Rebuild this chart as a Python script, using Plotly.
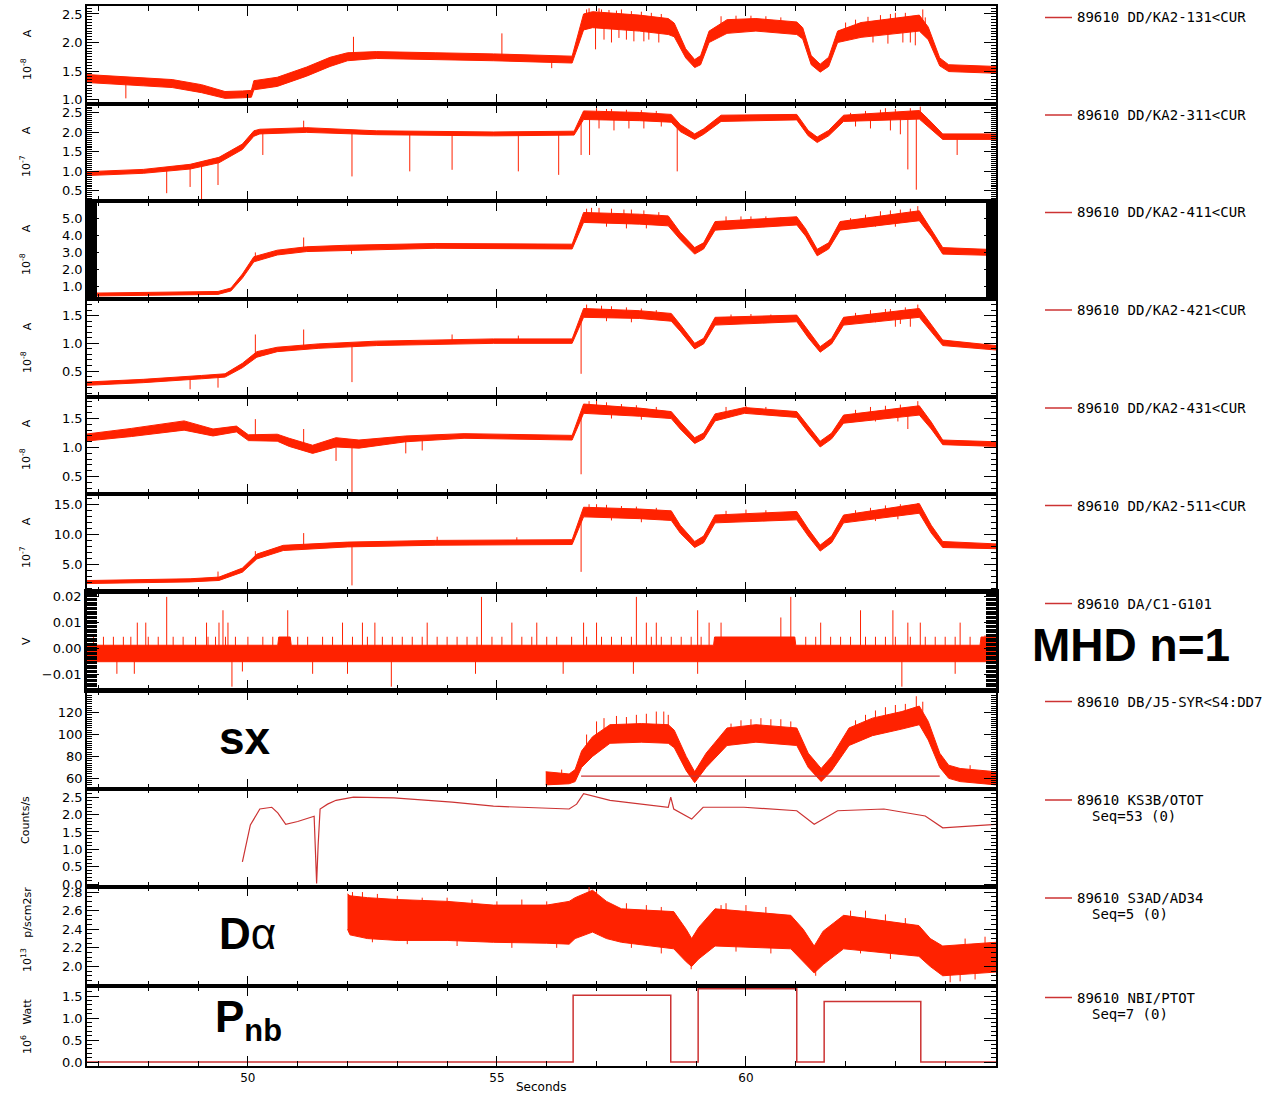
import numpy as np
import plotly.graph_objects as go

RED = "#ff2200"
DARK = "#cc3333"

# ---------------- data ----------------
X_RANGE = [46.77, 65.02]

# (time, lower envelope, upper envelope)
P1_BAND = [(46.73, 1.30, 1.44), (47.90, 1.24, 1.38), (48.48, 1.21, 1.35), (49.07, 1.12, 1.26),
           (49.54, 1.02, 1.14), (49.89, 1.03, 1.15), (50.07, 1.04, 1.16), (50.12, 1.17, 1.33),
           (50.59, 1.23, 1.39), (51.18, 1.41, 1.57), (51.65, 1.58, 1.74), (52.00, 1.68, 1.82),
           (52.58, 1.72, 1.84), (53.76, 1.70, 1.82), (54.93, 1.68, 1.80), (56.51, 1.64, 1.76),
           (56.74, 2.22, 2.50), (56.92, 2.26, 2.54), (57.86, 2.20, 2.48), (58.44, 2.14, 2.42),
           (58.56, 2.10, 2.34), (58.79, 1.73, 1.89), (58.97, 1.56, 1.70), (59.09, 1.61, 1.77),
           (59.26, 2.00, 2.20), (59.62, 2.16, 2.40), (60.20, 2.20, 2.42), (61.02, 2.14, 2.36),
           (61.14, 2.06, 2.26), (61.31, 1.61, 1.77), (61.49, 1.48, 1.62), (61.66, 1.58, 1.74),
           (61.84, 2.00, 2.20), (62.31, 2.09, 2.35), (63.13, 2.17, 2.45), (63.48, 2.20, 2.48),
           (63.66, 2.05, 2.27), (63.89, 1.59, 1.73), (64.07, 1.49, 1.61), (65.02, 1.46, 1.58)]
P1_SPIKES = [(47.55, 1.02), (52.12, 2.10), (55.10, 2.16), (56.10, 1.55), (56.98, 1.88),
             (57.30, 2.00), (57.60, 2.05), (57.95, 2.02), (58.25, 2.00), (63.30, 2.00),
             (63.40, 1.95), (63.60, 2.44), (56.85, 2.60), (57.10, 2.58), (57.40, 2.56),
             (62.90, 2.50), (63.20, 2.52), (63.55, 2.58),
             (56.80, 2.58), (57.05, 2.60), (57.25, 2.57), (57.50, 2.58), (57.70, 2.55),
             (57.90, 2.54), (58.10, 2.52), (58.30, 2.50), (59.50, 2.46), (59.80, 2.47),
             (60.10, 2.47), (60.40, 2.46), (60.70, 2.44), (62.00, 2.35), (62.20, 2.40),
             (62.45, 2.45), (62.70, 2.48), (63.00, 2.52), (57.15, 2.05), (57.45, 2.08),
             (57.75, 2.02), (58.05, 2.05), (62.55, 2.00), (62.85, 1.98), (63.15, 2.00)]

P2_BAND = [(46.73, 0.89, 0.99), (47.90, 0.95, 1.05), (48.84, 1.06, 1.18), (49.42, 1.22, 1.36),
           (49.89, 1.56, 1.70), (50.12, 1.90, 2.04), (50.24, 1.96, 2.08), (51.18, 2.00, 2.12),
           (52.58, 1.94, 2.04), (54.93, 1.91, 2.01), (56.55, 1.93, 2.03), (56.74, 2.33, 2.55),
           (57.86, 2.30, 2.51), (58.50, 2.26, 2.46), (58.68, 2.02, 2.20), (58.97, 1.82, 1.96),
           (59.15, 1.95, 2.09), (59.50, 2.28, 2.44), (61.02, 2.32, 2.46), (61.25, 1.91, 2.05),
           (61.43, 1.74, 1.88), (61.66, 1.91, 2.05), (61.96, 2.28, 2.44), (63.48, 2.34, 2.56),
           (63.66, 2.14, 2.34), (63.95, 1.82, 1.96), (65.02, 1.82, 1.96)]
P2_SPIKES = [(48.37, 0.44), (48.84, 0.60), (49.07, 0.29), (49.40, 0.65), (50.30, 1.42),
             (51.12, 2.30), (52.09, 0.87), (53.25, 1.00), (54.10, 1.04), (55.43, 1.00),
             (56.24, 0.91), (56.69, 1.42), (56.86, 1.42), (58.62, 1.00), (63.25, 1.05),
             (63.42, 0.53), (64.24, 1.42), (57.20, 2.60), (62.80, 2.62), (63.50, 2.66),
             (57.00, 2.62), (57.30, 2.60), (57.60, 2.58), (57.90, 2.57), (58.20, 2.55),
             (62.10, 2.50), (62.40, 2.55), (62.70, 2.58), (63.00, 2.60), (63.30, 2.62),
             (57.05, 2.10), (57.35, 2.05), (57.65, 2.10), (57.95, 2.10), (58.30, 2.15),
             (62.20, 2.15), (62.50, 2.10), (62.90, 2.05), (63.10, 1.95)]

P3_BAND = [(46.73, 0.45, 0.62), (49.40, 0.55, 0.72), (49.66, 0.75, 0.92), (49.89, 1.50, 1.74),
           (50.12, 2.45, 2.75), (50.59, 2.85, 3.13), (51.18, 3.05, 3.33), (52.00, 3.14, 3.42),
           (53.76, 3.24, 3.52), (56.51, 3.20, 3.48), (56.74, 4.75, 5.33), (57.86, 4.65, 5.23),
           (58.44, 4.55, 5.13), (58.68, 3.75, 4.17), (58.97, 2.90, 3.28), (59.15, 3.20, 3.56),
           (59.38, 4.30, 4.80), (61.02, 4.60, 5.08), (61.20, 3.95, 4.37), (61.43, 2.80, 3.18),
           (61.66, 3.20, 3.56), (61.89, 4.30, 4.80), (63.48, 4.85, 5.43), (63.72, 3.95, 4.37),
           (63.95, 2.90, 3.28), (65.02, 2.82, 3.16)]
P3_SPIKES = [(51.12, 3.87), (50.15, 3.00), (56.90, 5.60), (57.30, 5.55), (57.70, 5.50),
             (60.10, 5.10), (62.70, 5.40), (63.10, 5.50), (63.45, 5.70), (52.08, 2.90),
             (56.80, 5.55), (57.05, 5.60), (57.55, 5.50), (57.95, 5.45), (58.25, 5.35),
             (59.60, 5.10), (59.90, 5.10), (60.40, 5.10), (60.70, 5.05), (62.10, 5.00),
             (62.40, 5.20), (62.90, 5.45), (63.30, 5.55), (57.20, 4.50), (57.60, 4.40),
             (58.00, 4.40), (62.60, 4.50), (63.00, 4.50)]

P4_BAND = [(46.73, 0.24, 0.30), (47.90, 0.29, 0.35), (49.07, 0.36, 0.42), (49.54, 0.39, 0.45),
           (49.89, 0.56, 0.64), (50.18, 0.75, 0.85), (50.59, 0.85, 0.93), (51.41, 0.91, 0.99),
           (52.58, 0.96, 1.04), (54.93, 1.00, 1.08), (56.51, 1.00, 1.08), (56.74, 1.47, 1.63),
           (57.86, 1.45, 1.59), (58.50, 1.40, 1.54), (58.68, 1.22, 1.34), (58.97, 0.90, 1.00),
           (59.15, 0.99, 1.09), (59.38, 1.33, 1.47), (61.02, 1.39, 1.51), (61.25, 1.10, 1.22),
           (61.49, 0.84, 0.94), (61.72, 0.99, 1.09), (61.96, 1.33, 1.47), (63.48, 1.47, 1.63),
           (63.72, 1.21, 1.35), (63.95, 0.96, 1.06), (65.02, 0.88, 0.96)]
P4_SPIKES = [(48.84, 0.17), (49.40, 0.20), (50.15, 1.16), (51.12, 1.25), (52.09, 0.30),
             (54.10, 1.16), (55.43, 1.14), (56.69, 0.45), (57.10, 1.68), (62.90, 1.62),
             (63.45, 1.70), (63.30, 1.30), (63.00, 1.30),
             (56.80, 1.70), (57.30, 1.67), (57.60, 1.65), (57.90, 1.63), (58.20, 1.60),
             (59.70, 1.52), (60.10, 1.53), (60.50, 1.52), (62.20, 1.55), (62.50, 1.60),
             (62.80, 1.62), (63.20, 1.65), (57.20, 1.40), (57.70, 1.38), (62.60, 1.38),
             (63.10, 1.35)]

P5_BAND = [(46.73, 1.11, 1.23), (47.66, 1.19, 1.33), (48.72, 1.30, 1.46), (49.30, 1.20, 1.32),
           (49.77, 1.27, 1.37), (50.01, 1.12, 1.22), (50.59, 1.11, 1.23), (50.83, 1.02, 1.16),
           (51.30, 0.90, 1.04), (51.77, 1.01, 1.17), (52.23, 0.99, 1.13), (53.17, 1.10, 1.20),
           (54.34, 1.16, 1.24), (56.51, 1.13, 1.21), (56.74, 1.59, 1.75), (57.86, 1.54, 1.68),
           (58.50, 1.50, 1.62), (58.68, 1.32, 1.44), (58.97, 1.07, 1.17), (59.15, 1.15, 1.25),
           (59.38, 1.46, 1.58), (59.97, 1.59, 1.69), (61.02, 1.52, 1.62), (61.25, 1.26, 1.38),
           (61.49, 1.01, 1.11), (61.72, 1.15, 1.25), (61.96, 1.42, 1.56), (63.48, 1.56, 1.72),
           (63.72, 1.32, 1.44), (63.95, 1.05, 1.13), (65.02, 1.02, 1.10)]
P5_SPIKES = [(50.15, 1.49), (51.12, 1.32), (51.77, 0.77), (52.09, 0.21), (53.17, 0.90),
             (53.50, 0.95), (56.69, 0.54), (63.25, 1.32), (57.00, 1.82), (63.45, 1.80),
             (56.85, 1.80), (57.20, 1.78), (57.50, 1.75), (57.80, 1.73), (58.20, 1.70),
             (59.60, 1.70), (60.00, 1.72), (60.40, 1.70), (62.20, 1.65), (62.50, 1.70),
             (62.80, 1.72), (63.10, 1.74), (57.30, 1.50), (57.90, 1.48), (62.60, 1.45),
             (63.05, 1.45)]

P6_BAND = [(46.73, 1.80, 2.30), (48.84, 2.08, 2.60), (49.42, 2.32, 2.88), (49.89, 3.70, 4.38),
           (50.18, 5.90, 6.70), (50.71, 7.30, 8.16), (52.00, 7.90, 8.70), (53.76, 8.18, 8.98),
           (56.51, 8.30, 9.10), (56.74, 12.9, 14.5), (57.86, 12.6, 14.2), (58.50, 12.3, 13.9),
           (58.68, 10.2, 11.5), (58.97, 7.80, 8.80), (59.15, 8.60, 9.70), (59.38, 11.9, 13.2),
           (61.02, 12.4, 13.8), (61.25, 9.70, 10.9), (61.49, 7.20, 8.20), (61.72, 8.60, 9.70),
           (61.96, 11.9, 13.2), (63.48, 13.5, 15.1), (63.72, 10.2, 11.5), (63.95, 7.80, 8.80),
           (65.02, 7.60, 8.40)]
P6_SPIKES = [(49.40, 3.80), (50.15, 7.20), (51.12, 10.2), (52.09, 1.50), (56.69, 3.75),
             (57.00, 15.0), (63.45, 15.2), (53.80, 9.60), (55.40, 9.50),
             (56.85, 15.0), (57.20, 14.9), (57.50, 14.7), (57.80, 14.6), (58.20, 14.4),
             (59.60, 13.9), (60.00, 14.1), (60.40, 14.0), (62.20, 14.0), (62.50, 14.4),
             (62.80, 14.8), (63.10, 15.0), (57.30, 12.3), (57.90, 12.0), (62.60, 12.2),
             (63.05, 12.5)]

MHD_BAND = [(46.73, -0.0052, 0.0012), (50.60, -0.0052, 0.0012), (50.62, -0.0052, 0.0044),
            (50.85, -0.0052, 0.0044), (50.87, -0.0052, 0.0012), (59.35, -0.0052, 0.0012),
            (59.37, -0.0052, 0.0044), (60.98, -0.0052, 0.0044), (61.00, -0.0052, 0.0012),
            (64.70, -0.0052, 0.0012), (64.72, -0.0052, 0.0044), (65.02, -0.0052, 0.0044)]
MHD_SPIKES = [(47.78, 0.010), (47.95, 0.010), (48.37, 0.020), (49.17, 0.010), (49.42, 0.010),
              (49.50, 0.0148), (49.60, 0.010), (50.80, 0.0148), (51.90, 0.010), (52.30, 0.010),
              (52.55, 0.010), (53.60, 0.010), (54.69, 0.020), (55.30, 0.010), (55.80, 0.010),
              (56.74, 0.010), (57.00, 0.010), (57.80, 0.020), (58.00, 0.010), (58.20, 0.010),
              (59.03, 0.0148), (59.26, 0.010), (59.50, 0.010), (60.90, 0.020), (60.70, 0.012),
              (61.50, 0.010), (62.30, 0.0148), (62.95, 0.0148), (63.25, 0.010), (63.50, 0.010),
              (64.30, 0.010), (64.80, 0.005),
              (47.37, -0.0099), (47.72, -0.0099), (49.68, -0.0149), (49.89, -0.0090),
              (51.30, -0.0099), (52.00, -0.0099), (52.88, -0.0149), (54.57, -0.0099),
              (56.33, -0.0099), (57.74, -0.0099), (59.03, -0.0099), (63.13, -0.0149),
              (64.20, -0.0099),
              (46.90, 0.0045), (47.10, 0.0045), (47.30, 0.0045), (47.50, 0.0045), (47.65, 0.0045),
              (48.00, 0.0045), (48.20, 0.0045), (48.50, 0.0045), (48.70, 0.0045), (48.95, 0.0045),
              (49.20, 0.0045), (49.35, 0.0045), (49.55, 0.0045), (49.75, 0.0045), (50.00, 0.0045),
              (50.30, 0.0045), (50.50, 0.0045), (51.00, 0.0045), (51.20, 0.0045), (51.50, 0.0045),
              (51.70, 0.0045), (52.10, 0.0045), (52.40, 0.0045), (52.70, 0.0045), (52.90, 0.0045),
              (53.10, 0.0045), (53.30, 0.0045), (53.50, 0.0045), (53.80, 0.0045), (54.00, 0.0045),
              (54.20, 0.0045), (54.40, 0.0045), (54.60, 0.0045), (54.90, 0.0045), (55.10, 0.0045),
              (55.50, 0.0045), (55.70, 0.0045), (56.00, 0.0045), (56.20, 0.0045), (56.50, 0.0045),
              (56.80, 0.0045), (57.10, 0.0045), (57.30, 0.0045), (57.50, 0.0045), (57.70, 0.0045),
              (58.10, 0.0045), (58.30, 0.0045), (58.50, 0.0045), (58.70, 0.0045), (58.90, 0.0045),
              (59.10, 0.0045), (61.20, 0.0045), (61.40, 0.0045), (61.70, 0.0045), (61.90, 0.0045),
              (62.10, 0.0045), (62.40, 0.0045), (62.60, 0.0045), (62.80, 0.0045), (63.00, 0.0045),
              (63.30, 0.0045), (63.60, 0.0045), (63.80, 0.0045), (64.00, 0.0045), (64.20, 0.0045),
              (64.50, 0.0045)]

SX_BAND = [(55.98, 54, 66), (56.45, 55, 64), (56.57, 57, 68), (56.70, 70, 85), (56.92, 80, 98),
           (57.27, 92, 109), (57.90, 93, 110), (58.44, 92, 109), (58.56, 88, 104), (58.80, 67, 80),
           (58.97, 56, 66), (59.20, 70, 83), (59.62, 90, 106), (60.20, 93, 109), (61.02, 90, 106),
           (61.25, 70, 83), (61.51, 57, 69), (61.72, 67, 80), (62.07, 90, 106), (62.54, 99, 115),
           (63.13, 105, 121), (63.48, 109, 126), (63.66, 95, 112), (63.89, 70, 83), (64.07, 60, 72),
           (64.30, 57, 69), (65.02, 54, 66)]
SX_SPIKES = [(56.80, 100), (57.00, 112), (57.15, 115), (57.40, 117), (57.60, 116), (57.80, 118),
             (58.00, 119), (58.20, 121), (58.35, 121), (58.44, 118), (59.70, 110), (59.90, 113),
             (60.10, 114), (60.30, 115), (60.50, 114), (60.70, 114), (60.90, 112), (62.20, 113),
             (62.40, 118), (62.60, 122), (62.80, 125), (63.00, 127), (63.20, 128), (63.42, 135),
             (63.55, 130), (56.30, 68), (64.50, 72)]
SX_FLAT_T = [56.69, 63.89]
SX_FLAT_V = [62, 62]

KS_LINE = [(49.89, 0.64), (50.05, 1.70), (50.24, 2.16), (50.48, 2.21), (50.60, 2.05), (50.76, 1.72),
           (51.00, 1.80), (51.24, 1.92), (51.33, 1.95), (51.36, 0.80), (51.38, 0.02), (51.41, 1.10),
           (51.45, 2.16), (51.60, 2.30), (51.77, 2.41), (52.12, 2.50), (52.93, 2.48), (54.10, 2.36),
           (54.93, 2.24), (56.45, 2.16), (56.60, 2.30), (56.74, 2.60), (57.27, 2.41), (58.44, 2.21),
           (58.49, 2.50), (58.55, 2.16), (58.91, 1.87), (59.14, 2.21), (59.96, 2.21), (61.02, 2.11),
           (61.37, 1.72), (61.84, 2.11), (62.77, 2.16), (63.60, 1.96), (63.95, 1.62), (65.02, 1.72)]

DA_BAND = [(52.00, 2.40, 2.78), (52.05, 2.34, 2.76), (52.40, 2.30, 2.74), (53.00, 2.28, 2.72),
           (54.00, 2.28, 2.70), (54.93, 2.26, 2.66), (56.00, 2.25, 2.66), (56.45, 2.24, 2.70),
           (56.57, 2.30, 2.74), (56.92, 2.37, 2.82), (57.20, 2.30, 2.70), (57.50, 2.26, 2.62),
           (58.55, 2.19, 2.59), (58.80, 2.05, 2.40), (58.91, 2.00, 2.30), (59.05, 2.08, 2.42),
           (59.38, 2.22, 2.62), (60.90, 2.19, 2.55), (61.15, 2.05, 2.40), (61.37, 1.93, 2.22),
           (61.55, 2.02, 2.38), (61.96, 2.19, 2.55), (63.47, 2.11, 2.44), (63.70, 2.00, 2.30),
           (63.95, 1.90, 2.22), (65.02, 1.94, 2.26)]
DA_SPIKES = [(52.10, 2.80), (56.85, 2.86), (57.00, 2.85), (59.50, 2.66), (62.10, 2.60),
             (64.80, 2.32), (58.90, 1.97), (61.40, 1.90), (64.10, 1.83), (64.30, 1.84),
             (52.30, 2.80), (52.60, 2.78), (53.00, 2.76), (53.50, 2.74), (54.00, 2.74),
             (54.50, 2.72), (55.00, 2.70), (55.50, 2.72), (56.00, 2.70), (57.60, 2.68),
             (58.00, 2.66), (58.30, 2.64), (59.60, 2.68), (60.00, 2.66), (60.40, 2.64),
             (62.40, 2.60), (62.80, 2.56), (63.20, 2.52), (64.40, 2.30), (52.50, 2.26),
             (53.20, 2.24), (54.20, 2.22), (55.30, 2.20), (56.20, 2.20), (57.70, 2.20),
             (58.30, 2.14), (59.80, 2.16), (60.50, 2.14), (62.30, 2.14), (62.90, 2.08),
             (64.60, 1.86)]

PNB_T = [46.73, 56.53, 58.49, 59.04, 61.02, 61.57, 63.51, 65.02]
PNB_V = [0.0, 1.52, 0.0, 1.67, 0.0, 1.38, 0.0, 0.0]

LEGEND_TEXT = ["89610 DD/KA2-131<CUR", "89610 DD/KA2-311<CUR", "89610 DD/KA2-411<CUR",
               "89610 DD/KA2-421<CUR", "89610 DD/KA2-431<CUR", "89610 DD/KA2-511<CUR",
               "89610 DA/C1-G101", "89610 DB/J5-SYR<S4:DD7", "89610 KS3B/OTOT",
               "89610 S3AD/AD34", "89610 NBI/PTOT"]
LEGEND_SUB = [None, None, None, None, None, None, None, None, "Seq=53 (0)", "Seq=5 (0)", "Seq=7 (0)"]

NBSP = "\u00a0"
Y_TITLES = ["10<sup>-8</sup>" + NBSP * 6 + "A", "10<sup>-7</sup>" + NBSP * 6 + "A",
            "10<sup>-8</sup>" + NBSP * 6 + "A", "10<sup>-8</sup>" + NBSP * 6 + "A",
            "10<sup>-8</sup>" + NBSP * 6 + "A", "10<sup>-7</sup>" + NBSP * 6 + "A",
            "V", None, "Counts/s", "10<sup>13</sup>" + NBSP * 3 + "p/scm2sr",
            "10<sup>6</sup>" + NBSP * 3 + "Watt"]

# ---------------- layout geometry ----------------
W, H = 1262, 1094
ML, MR, MT, MB = 87, 266, 6, 28
PW, PH = W - ML - MR, H - MT - MB
EDGES = [6, 103.5, 201, 298.5, 396.5, 494, 592, 690, 788.5, 886.5, 986, 1066]
Y_TITLE_PY = [55, 152, 250, 348, 445, 543, 641, None, 820, 930, 1026]


def xp(px):
    return (px - ML) / PW


def yp(py):
    return (H - MB - py) / PH


AXES = [
    dict(range=[0.93, 2.64], tickvals=[1.0, 1.5, 2.0, 2.5], fmt="%.1f", minor=0.05, mlen=5),
    dict(range=[0.24, 2.74], tickvals=[0.5, 1.0, 1.5, 2.0, 2.5], fmt="%.1f", minor=0.05, mlen=5),
    dict(range=[0.31, 6.0], tickvals=[1, 2, 3, 4, 5], fmt="%.1f", minor=0.02, mlen=10),
    dict(range=[0.04, 1.81], tickvals=[0.5, 1.0, 1.5], fmt="%.1f", minor=0.1, mlen=5),
    dict(range=[0.20, 1.88], tickvals=[0.5, 1.0, 1.5], fmt="%.1f", minor=0.1, mlen=5),
    dict(range=[0.4, 16.7], tickvals=[5, 10, 15], fmt="%.1f", minor=1.0, mlen=5),
    dict(range=[-0.0162, 0.0219], tickvals=[-0.01, 0.0, 0.01, 0.02], fmt="%.2f", minor=0.0005, mlen=10),
    dict(range=[50.7, 140.7], tickvals=[60, 80, 100, 120], fmt="%d", minor=2, mlen=5),
    dict(range=[-0.07, 2.75], tickvals=[0, 0.5, 1.0, 1.5, 2.0, 2.5], fmt="%.1f", minor=0.1, mlen=5),
    dict(range=[1.79, 2.86], tickvals=[2.0, 2.2, 2.4, 2.6, 2.8], fmt="%.1f", minor=0.05, mlen=5),
    dict(range=[-0.09, 1.73], tickvals=[0.0, 0.5, 1.0, 1.5], fmt="%.1f", minor=0.1, mlen=5),
]


def band_trace(band, ax):
    t = [b[0] for b in band]
    lo = [b[1] for b in band]
    hi = [b[2] for b in band]
    return go.Scatter(x=t + t[::-1], y=hi + lo[::-1], mode="lines", fill="toself",
                      fillcolor=RED, line=dict(color=RED, width=1),
                      xaxis=ax[0], yaxis=ax[1], hoverinfo="skip", showlegend=False)


def spike_trace(band, spikes, ax):
    t = np.array([b[0] for b in band])
    mid = (np.array([b[1] for b in band]) + np.array([b[2] for b in band])) / 2
    xs, ys = [], []
    for ts, tip in spikes:
        base = float(np.interp(ts, t, mid))
        xs += [ts, ts, None]
        ys += [base, tip, None]
    return go.Scatter(x=xs, y=ys, mode="lines", line=dict(color=RED, width=1),
                      xaxis=ax[0], yaxis=ax[1], hoverinfo="skip", showlegend=False)


def axname(i):
    return ("x" if i == 1 else f"x{i}", "y" if i == 1 else f"y{i}")


fig = go.Figure()
BANDS = [(P1_BAND, P1_SPIKES), (P2_BAND, P2_SPIKES), (P3_BAND, P3_SPIKES), (P4_BAND, P4_SPIKES),
         (P5_BAND, P5_SPIKES), (P6_BAND, P6_SPIKES), (MHD_BAND, MHD_SPIKES), (SX_BAND, SX_SPIKES)]
for i, (band, spikes) in enumerate(BANDS, start=1):
    ax = axname(i)
    fig.add_trace(spike_trace(band, spikes, ax))
    fig.add_trace(band_trace(band, ax))

ax = axname(8)
fig.add_trace(go.Scatter(x=SX_FLAT_T, y=SX_FLAT_V, mode="lines", line=dict(color=DARK, width=1.2),
                         xaxis=ax[0], yaxis=ax[1], hoverinfo="skip", showlegend=False))
ax = axname(9)
fig.add_trace(go.Scatter(x=[p[0] for p in KS_LINE], y=[p[1] for p in KS_LINE], mode="lines",
                         line=dict(color=DARK, width=1.2), xaxis=ax[0], yaxis=ax[1],
                         hoverinfo="skip", showlegend=False))
ax = axname(10)
fig.add_trace(spike_trace(DA_BAND, DA_SPIKES, ax))
fig.add_trace(band_trace(DA_BAND, ax))
ax = axname(11)
fig.add_trace(go.Scatter(x=PNB_T, y=PNB_V, mode="lines", line=dict(color=DARK, width=1.5, shape="hv"),
                         xaxis=ax[0], yaxis=ax[1], hoverinfo="skip", showlegend=False))

layout = dict(width=W, height=H, margin=dict(l=ML, r=MR, t=MT, b=MB, autoexpand=False),
              paper_bgcolor="white", plot_bgcolor="white", showlegend=False)
tickfont = dict(family="DejaVu Sans", size=13, color="black")
for i in range(1, 12):
    xa = "xaxis" if i == 1 else f"xaxis{i}"
    ya = "yaxis" if i == 1 else f"yaxis{i}"
    xn, yn = axname(i)
    lw = 2.5 if i == 7 else 1.5
    cfg = AXES[i - 1]
    layout[xa] = dict(domain=[0, 1], anchor=yn, range=X_RANGE, showline=True, linecolor="black",
                      linewidth=lw, mirror="allticks", ticks="inside", tickvals=[50, 55, 60],
                      ticktext=["50", "55", "60"], ticklen=10, tickcolor="black", tickwidth=1,
                      minor=dict(ticks="inside", ticklen=5, dtick=1, tick0=0, tickcolor="black",
                                 showgrid=False),
                      showgrid=False, zeroline=False, showticklabels=(i == 11), automargin=False,
                      tickfont=dict(family="DejaVu Sans", size=12, color="black"))
    if i > 1:
        layout[xa]["matches"] = "x"
    layout[ya] = dict(domain=[yp(EDGES[i]), yp(EDGES[i - 1])], anchor=xn, range=cfg["range"],
                      showline=True, linecolor="black", linewidth=lw, mirror="allticks",
                      ticks="inside", ticklen=12, tickcolor="black", tickwidth=1,
                      tickvals=cfg["tickvals"], automargin=False,
                      ticktext=[(cfg["fmt"] % v).replace("-", "\u2212") for v in cfg["tickvals"]],
                      minor=dict(ticks="inside", ticklen=cfg["mlen"], dtick=cfg["minor"], tick0=0,
                                 tickcolor="black", showgrid=False),
                      showgrid=False, zeroline=False, tickfont=tickfont)

annotations = []
shapes = []
for i in range(11):
    py = EDGES[i] + 11.5
    shapes.append(dict(type="line", xref="paper", yref="paper", x0=xp(1045), x1=xp(1072),
                       y0=yp(py), y1=yp(py), line=dict(color=DARK, width=1.5)))
    annotations.append(dict(xref="paper", yref="paper", x=xp(1075), y=yp(py), text=LEGEND_TEXT[i],
                            showarrow=False, xanchor="left", yanchor="middle",
                            font=dict(family="DejaVu Sans Mono", size=14, color="black")))
    if LEGEND_SUB[i]:
        annotations.append(dict(xref="paper", yref="paper", x=xp(1090), y=yp(py + 16),
                                text=LEGEND_SUB[i], showarrow=False, xanchor="left",
                                yanchor="middle",
                                font=dict(family="DejaVu Sans Mono", size=14, color="black")))
    if Y_TITLES[i]:
        annotations.append(dict(xref="paper", yref="paper", x=xp(26), y=yp(Y_TITLE_PY[i]),
                                text=Y_TITLES[i], textangle=-90, showarrow=False,
                                xanchor="center", yanchor="middle",
                                font=dict(family="DejaVu Sans", size=11, color="black")))

big = dict(family="Liberation Sans", size=46, color="black")
annotations += [
    dict(xref="paper", yref="paper", x=xp(1131), y=yp(645), text="<b>MHD n=1</b>", showarrow=False,
         xanchor="center", yanchor="middle", font=big),
    dict(xref="paper", yref="paper", x=xp(245), y=yp(738), text="<b>sx</b>", showarrow=False,
         xanchor="center", yanchor="middle", font=big),
    dict(xref="paper", yref="paper", x=xp(247), y=yp(933), text="<b>D</b>\u03b1", showarrow=False,
         xanchor="center", yanchor="middle", font=dict(family="Liberation Sans", size=44, color="black")),
    dict(xref="paper", yref="paper", x=xp(248), y=yp(1020), text="<b>P<sub>nb</sub></b>",
         showarrow=False, xanchor="center", yanchor="middle",
         font=dict(family="Liberation Sans", size=44, color="black")),
    dict(xref="paper", yref="paper", x=xp(541), y=yp(1087), text="Seconds", showarrow=False,
         xanchor="center", yanchor="middle", font=dict(family="DejaVu Sans", size=12, color="black")),
]
layout["annotations"] = annotations
layout["shapes"] = shapes
fig.update_layout(**layout)
fig.write_html("out.html", config={"displayModeBar": False},
               post_script="document.body.style.margin='0';document.body.style.padding='0';")
